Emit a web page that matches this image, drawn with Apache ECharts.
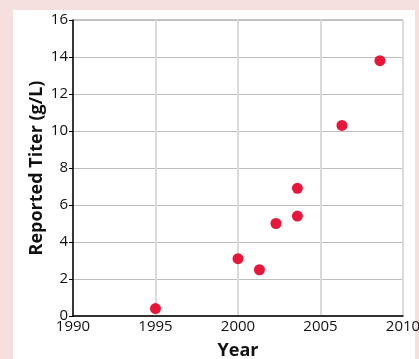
<!DOCTYPE html>
<html><head><meta charset="utf-8">
<script src="https://cdn.jsdelivr.net/npm/echarts@6/dist/echarts.min.js"></script>
<style>
html,body{margin:0;padding:0;width:419px;height:359px;background:#f5dfdf;overflow:hidden;}
#panel{position:absolute;left:13px;top:10px;width:402px;height:349px;background:#fff;}
#chart{position:absolute;left:0;top:0;width:419px;height:359px;}
</style></head>
<body><div id="panel"></div><div id="chart"></div>
<script>
const years = [1995.0, 2000.0, 2001.3, 2002.3, 2003.6, 2003.6, 2006.3, 2008.6];
const titers = [0.4, 3.1, 2.5, 5.0, 5.4, 6.9, 10.3, 13.8];
const xTitle = 'Year';
const yTitle = 'Reported Titer (g/L)';
const font = '"Open Sans", "Noto Sans", sans-serif';
const chart = echarts.init(document.getElementById('chart'), null, {renderer:'canvas'});
chart.setOption({
  animation:false,
  grid:{left:73,right:16,top:20,bottom:43,containLabel:false,outerBoundsMode:'none',
    show:true,borderColor:'#8a8a8a',borderWidth:1,backgroundColor:'transparent'},
  xAxis:{type:'value',min:1990,max:2010,interval:5,
    name:xTitle,nameLocation:'middle',nameGap:26,nameMoveOverlap:false,
    nameTextStyle:{fontFamily:font,fontWeight:'bold',fontSize:18,color:'#111'},
    axisLine:{show:true,onZero:false,lineStyle:{color:'#000',width:1.5}},
    axisTick:{show:false},
    axisLabel:{fontFamily:font,fontSize:15,color:'#111',margin:3,formatter:v=>String(v)},
    splitLine:{show:true,lineStyle:{color:'#dadada',width:2}}},
  yAxis:{type:'value',min:0,max:16,interval:2,
    name:yTitle,nameLocation:'middle',nameGap:27,nameMoveOverlap:false,
    nameTextStyle:{fontFamily:font,fontWeight:'bold',fontSize:18,color:'#111'},
    axisLine:{show:true,lineStyle:{color:'#000',width:1.5}},
    axisTick:{show:true,length:4,lineStyle:{color:'#000'}},
    axisLabel:{fontFamily:font,fontSize:15,color:'#111',margin:5},
    splitLine:{show:true,lineStyle:{color:'#bdbdbd',width:1}}},
  series:[{type:'scatter',symbol:'circle',symbolSize:11,
    itemStyle:{color:'#e8173a',opacity:1},
    data:years.map((y,i)=>[y,titers[i]])}]
});
</script></body></html>
